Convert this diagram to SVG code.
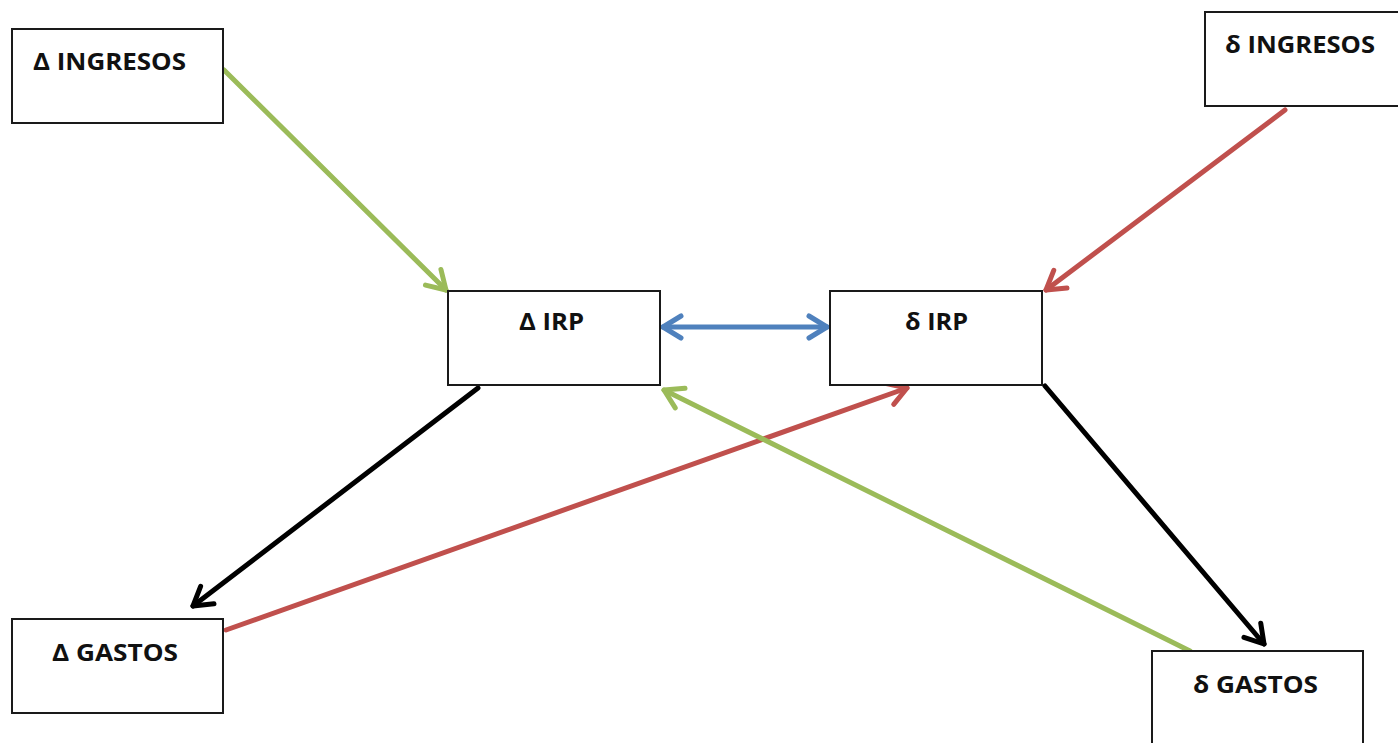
<svg xmlns="http://www.w3.org/2000/svg" width="1398" height="743" viewBox="0 0 1398 743">
<style>
.box{fill:#fff;stroke:#1a1a1a;stroke-width:2}
.lbl{font-family:"Open Sans","Liberation Sans",sans-serif;font-weight:bold;font-size:24px;fill:#111}
.c{fill:none;stroke-width:5;stroke-linecap:round}
.g{stroke:#9BBB59}.r{stroke:#C0504D}.b{stroke:#4F81BD}.k{stroke:#000}
</style>
<defs>
<marker id="ag" viewBox="-25 -15 30 30" markerWidth="30" markerHeight="30" refX="0" refY="0" orient="auto" markerUnits="userSpaceOnUse" overflow="visible"><path d="M-18 -11 L0 0 L-18 11" fill="none" stroke="#9BBB59" stroke-width="5" stroke-linecap="round" stroke-linejoin="round"/></marker>
<marker id="ar" viewBox="-25 -15 30 30" markerWidth="30" markerHeight="30" refX="0" refY="0" orient="auto" markerUnits="userSpaceOnUse" overflow="visible"><path d="M-18 -11 L0 0 L-18 11" fill="none" stroke="#C0504D" stroke-width="5" stroke-linecap="round" stroke-linejoin="round"/></marker>
<marker id="ab" viewBox="-25 -15 30 30" markerWidth="30" markerHeight="30" refX="0" refY="0" orient="auto-start-reverse" markerUnits="userSpaceOnUse" overflow="visible"><path d="M-18 -11 L0 0 L-18 11" fill="none" stroke="#4F81BD" stroke-width="5" stroke-linecap="round" stroke-linejoin="round"/></marker>
<marker id="ak" viewBox="-25 -15 30 30" markerWidth="30" markerHeight="30" refX="0" refY="0" orient="auto" markerUnits="userSpaceOnUse" overflow="visible"><path d="M-18 -11 L0 0 L-18 11" fill="none" stroke="#000" stroke-width="5" stroke-linecap="round" stroke-linejoin="round"/></marker>
</defs>
<rect width="1398" height="743" fill="#fff"/>
<g id="connectors">
<line class="c g" x1="224" y1="70" x2="446" y2="290" marker-end="url(#ag)"/>
<line class="c r" x1="1285" y1="110" x2="1046" y2="290" marker-end="url(#ar)"/>
<line class="c b" x1="663" y1="327" x2="827" y2="327" marker-start="url(#ab)" marker-end="url(#ab)"/>
<line class="c k" x1="478" y1="388" x2="193" y2="606" marker-end="url(#ak)"/>
<line class="c r" x1="226" y1="630" x2="907" y2="388" marker-end="url(#ar)"/>
<line class="c g" x1="1190" y1="651" x2="664" y2="390" marker-end="url(#ag)"/>
<line class="c k" x1="1045" y1="386" x2="1264" y2="644" marker-end="url(#ak)"/>
</g>
<g id="n-delta-ingresos"><rect class="box" x="12" y="29" width="211" height="94"/><text class="lbl" x="33" y="70" textLength="153" lengthAdjust="spacingAndGlyphs">Δ INGRESOS</text></g>
<g id="n-d-ingresos"><rect class="box" x="1205" y="12" width="200" height="94"/><text class="lbl" x="1225" y="53" textLength="150" lengthAdjust="spacingAndGlyphs">δ INGRESOS</text></g>
<g id="n-delta-irp"><rect class="box" x="448" y="291" width="212" height="94"/><text class="lbl" x="519" y="330" textLength="65" lengthAdjust="spacingAndGlyphs">Δ IRP</text></g>
<g id="n-d-irp"><rect class="box" x="830" y="291" width="212" height="94"/><text class="lbl" x="905" y="330" textLength="63" lengthAdjust="spacingAndGlyphs">δ IRP</text></g>
<g id="n-delta-gastos"><rect class="box" x="12" y="619" width="211" height="94"/><text class="lbl" x="52" y="661" textLength="126" lengthAdjust="spacingAndGlyphs">Δ GASTOS</text></g>
<g id="n-d-gastos"><rect class="box" x="1152" y="651" width="211" height="100"/><text class="lbl" x="1193" y="693" textLength="125" lengthAdjust="spacingAndGlyphs">δ GASTOS</text></g>
</svg>
